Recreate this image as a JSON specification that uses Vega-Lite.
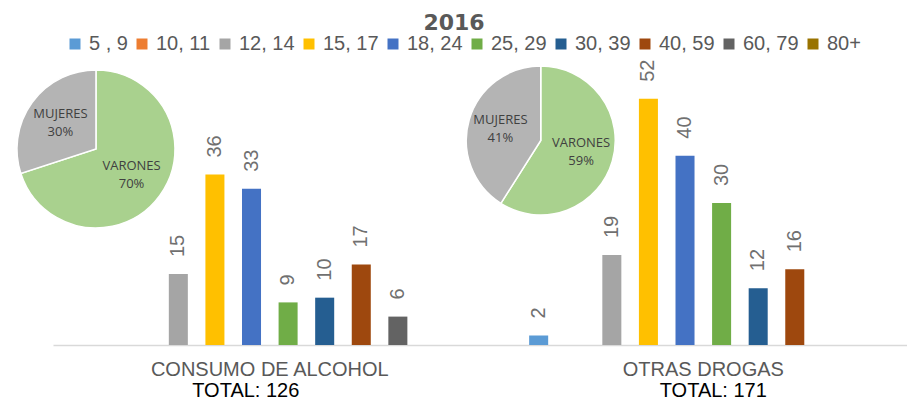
{
  "$schema": "https://vega.github.io/schema/vega-lite/v6.json",
  "width": 854,
  "height": 284,
  "autosize": "none",
  "padding": {"left": 53, "top": 61, "right": 0, "bottom": 56},
  "background": "white",
  "config": {
    "view": {"stroke": null},
    "font": "Liberation Sans"
  },
  "title": {
    "text": "2016",
    "font": "DejaVu Sans",
    "fontSize": 22,
    "fontWeight": "bold",
    "color": "#595959",
    "anchor": "middle",
    "dx": -26,
    "offset": -1
  },
  "datasets": {
    "sexo": [
      {"group": "CONSUMO DE ALCOHOL", "sexo": "VARONES", "pct": 0.70},
      {"group": "CONSUMO DE ALCOHOL", "sexo": "MUJERES", "pct": 0.30},
      {"group": "OTRAS DROGAS", "sexo": "VARONES", "pct": 0.59},
      {"group": "OTRAS DROGAS", "sexo": "MUJERES", "pct": 0.41}
    ]
  },
  "layer": [
    {
      "data": {
        "values": [
          {"group": "CONSUMO DE ALCOHOL", "edad": "12, 14", "n": 15},
          {"group": "CONSUMO DE ALCOHOL", "edad": "15, 17", "n": 36},
          {"group": "CONSUMO DE ALCOHOL", "edad": "18, 24", "n": 33},
          {"group": "CONSUMO DE ALCOHOL", "edad": "25, 29", "n": 9},
          {"group": "CONSUMO DE ALCOHOL", "edad": "30, 39", "n": 10},
          {"group": "CONSUMO DE ALCOHOL", "edad": "40, 59", "n": 17},
          {"group": "CONSUMO DE ALCOHOL", "edad": "60, 79", "n": 6},
          {"group": "OTRAS DROGAS", "edad": "5 , 9", "n": 2},
          {"group": "OTRAS DROGAS", "edad": "12, 14", "n": 19},
          {"group": "OTRAS DROGAS", "edad": "15, 17", "n": 52},
          {"group": "OTRAS DROGAS", "edad": "18, 24", "n": 40},
          {"group": "OTRAS DROGAS", "edad": "25, 29", "n": 30},
          {"group": "OTRAS DROGAS", "edad": "30, 39", "n": 12},
          {"group": "OTRAS DROGAS", "edad": "40, 59", "n": 16}
        ]
      },
      "encoding": {
        "x": {
          "field": "group",
          "type": "nominal",
          "title": null,
          "scale": {
            "domain": ["CONSUMO DE ALCOHOL", "OTRAS DROGAS"],
            "paddingInner": 0.156,
            "paddingOuter": 0.063,
            "align": 0.62
          },
          "axis": {
            "labelAngle": 0,
            "ticks": false,
            "labelPadding": 14,
            "labelFontSize": 20,
            "labelColor": "#595959",
            "labelFont": "Liberation Sans",
            "domainColor": "#d9d9d9",
            "domainWidth": 1.5,
            "grid": false,
            "labelLimit": 0
          }
        }
      },
      "layer": [
        {
          "mark": {"type": "bar"},
          "encoding": {
            "xOffset": {
              "field": "edad",
              "type": "nominal",
              "scale": {
                "domain": ["5 , 9", "10, 11", "12, 14", "15, 17", "18, 24", "25, 29", "30, 39", "40, 59", "60, 79", "80+"],
                "paddingInner": 0.48,
                "paddingOuter": 0.24
              }
            },
            "y": {"field": "n", "type": "quantitative", "scale": {"domain": [0, 60]}, "axis": null},
            "color": {
              "field": "edad",
              "type": "nominal",
              "scale": {
                "domain": ["5 , 9", "10, 11", "12, 14", "15, 17", "18, 24", "25, 29", "30, 39", "40, 59", "60, 79", "80+"],
                "range": ["#5B9BD5", "#ED7D31", "#A5A5A5", "#FFC000", "#4472C4", "#70AD47", "#255E91", "#9E480E", "#636363", "#997300"]
              },
              "legend": {
                "title": null,
                "orient": "none",
                "direction": "horizontal",
                "columns": 10,
                "legendX": 12,
                "legendY": -27,
                "symbolType": "square",
                "symbolSize": 121,
                "symbolStrokeWidth": 0,
                "labelFontSize": 20,
                "labelFont": "Liberation Sans",
                "labelColor": "#595959",
                "labelOffset": 4,
                "columnPadding": 4,
                "labelLimit": 0
              }
            }
          }
        },
        {
          "mark": {
            "type": "text",
            "angle": 270,
            "align": "left",
            "baseline": "middle",
            "dx": 17,
            "fontSize": 20,
            "font": "Liberation Sans",
            "color": "#707070"
          },
          "encoding": {
            "xOffset": {
              "field": "edad",
              "type": "nominal",
              "scale": {
                "domain": ["5 , 9", "10, 11", "12, 14", "15, 17", "18, 24", "25, 29", "30, 39", "40, 59", "60, 79", "80+"],
                "paddingInner": 0.48,
                "paddingOuter": 0.24
              }
            },
            "y": {"field": "n", "type": "quantitative", "scale": {"domain": [0, 60]}, "axis": null},
            "text": {"field": "n", "type": "quantitative"}
          }
        },
        {
          "transform": [
            {"filter": "datum.group == 'CONSUMO DE ALCOHOL'"},
            {"aggregate": [{"op": "sum", "field": "n", "as": "total"}], "groupby": ["group"]},
            {"calculate": "'TOTAL: ' + datum.total", "as": "label"}
          ],
          "mark": {
            "type": "text",
            "baseline": "alphabetic",
            "align": "center",
            "dy": 52,
            "dx": -24,
            "fontSize": 20,
            "font": "Liberation Sans",
            "color": "#000000",
            "clip": false
          },
          "encoding": {
            "y": {"datum": 0, "type": "quantitative"},
            "text": {"field": "label", "type": "nominal"}
          }
        },
        {
          "transform": [
            {"filter": "datum.group == 'OTRAS DROGAS'"},
            {"aggregate": [{"op": "sum", "field": "n", "as": "total"}], "groupby": ["group"]},
            {"calculate": "'TOTAL: ' + datum.total", "as": "label"}
          ],
          "mark": {
            "type": "text",
            "baseline": "alphabetic",
            "align": "center",
            "dy": 52,
            "dx": 10,
            "fontSize": 20,
            "font": "Liberation Sans",
            "color": "#000000",
            "clip": false
          },
          "encoding": {
            "y": {"datum": 0, "type": "quantitative"},
            "text": {"field": "label", "type": "nominal"}
          }
        }
      ]
    },
    {
      "encoding": {
        "x": {
          "field": "group",
          "type": "nominal",
          "scale": {"type": "point", "domain": ["CONSUMO DE ALCOHOL", "OTRAS DROGAS"], "padding": 0.46, "align": 0.105},
          "axis": null
        },
        "y": {
          "field": "group",
          "type": "nominal",
          "scale": {"type": "point", "domain": ["OTRAS DROGAS", "CONSUMO DE ALCOHOL"], "range": [79.5, 88], "padding": 0},
          "axis": null
        },
        "theta": {"field": "pct", "type": "quantitative", "stack": true, "scale": {"domain": [0, 1]}},
        "order": {"field": "sexo", "sort": "descending"},
        "color": {
          "field": "sexo",
          "type": "nominal",
          "scale": {"domain": ["VARONES", "MUJERES"], "range": ["#A9D18E", "#B4B4B4"]},
          "legend": null
        }
      },
      "layer": [
        {
          "data": {"name": "sexo"},
          "transform": [{"filter": "datum.group == 'CONSUMO DE ALCOHOL'"}],
          "layer": [
            {"mark": {"type": "arc", "outerRadius": 79, "stroke": "white", "strokeWidth": 1.5}},
            {
              "mark": {"type": "text", "radius": 44, "font": "Open Sans", "fontSize": 13, "dy": -9},
              "encoding": {"text": {"field": "sexo", "type": "nominal"}, "color": {"value": "#404040"}}
            },
            {
              "mark": {"type": "text", "radius": 44, "font": "Open Sans", "fontSize": 13, "dy": 9},
              "encoding": {"text": {"field": "pct", "type": "quantitative", "format": ".0%"}, "color": {"value": "#404040"}}
            }
          ]
        },
        {
          "data": {"name": "sexo"},
          "transform": [{"filter": "datum.group == 'OTRAS DROGAS'"}],
          "layer": [
            {"mark": {"type": "arc", "outerRadius": 74.5, "stroke": "white", "strokeWidth": 1.5}},
            {
              "mark": {"type": "text", "radius": 42, "font": "Open Sans", "fontSize": 13, "dy": -9},
              "encoding": {"text": {"field": "sexo", "type": "nominal"}, "color": {"value": "#404040"}}
            },
            {
              "mark": {"type": "text", "radius": 42, "font": "Open Sans", "fontSize": 13, "dy": 9},
              "encoding": {"text": {"field": "pct", "type": "quantitative", "format": ".0%"}, "color": {"value": "#404040"}}
            }
          ]
        }
      ]
    }
  ],
  "resolve": {"scale": {"x": "independent", "y": "independent", "color": "independent"}}
}
